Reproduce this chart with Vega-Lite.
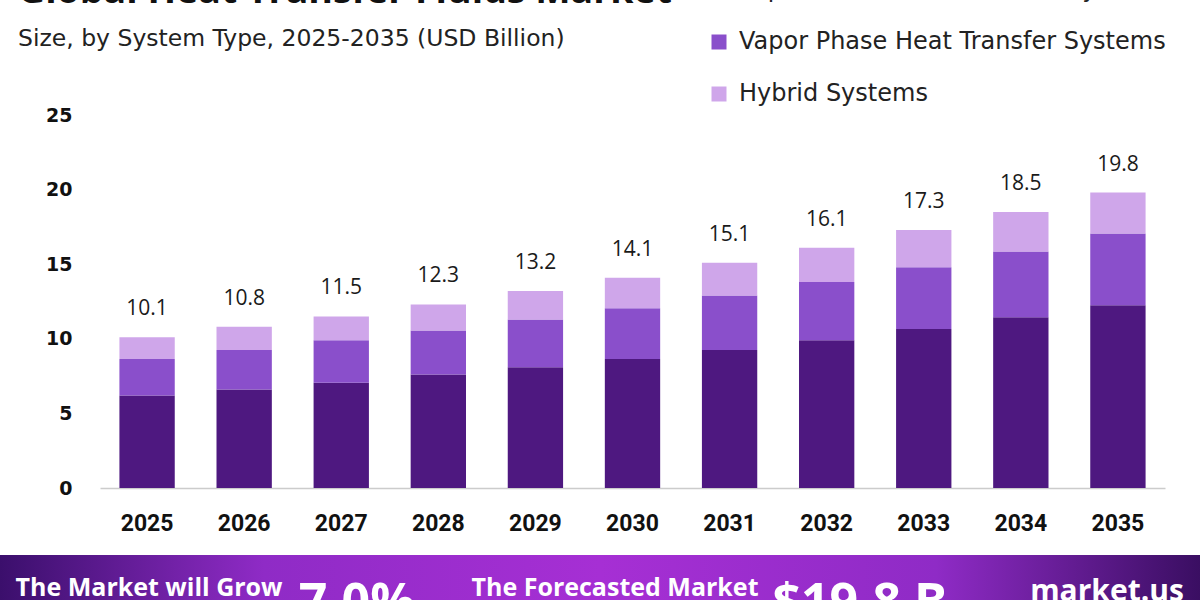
{
  "$schema": "https://vega.github.io/schema/vega-lite/v6.json",
  "background": "white",
  "padding": {"top": -27, "left": 0, "right": 0, "bottom": 0},
  "bounds": "flush",
  "spacing": 67,
  "config": {
    "view": {"stroke": null},
    "font": "Open Sans"
  },
  "vconcat": [
    {
      "width": 1200,
      "height": 373,
      "title": {
        "text": "Global Heat Transfer Fluids Market",
        "subtitle": "Size, by System Type, 2025-2035 (USD Billion)",
        "anchor": "start",
        "frame": "group",
        "dx": 18,
        "offset": 56,
        "font": "Open Sans",
        "fontSize": 37.5,
        "fontWeight": "bold",
        "color": "#111111",
        "subtitleFont": "DejaVu Sans",
        "subtitleFontSize": 23.5,
        "subtitleColor": "#222222",
        "subtitlePadding": 16
      },
      "data": {
        "values": [
          {"year": "2025", "system": "Liquid Phase Heat Transfer Systems", "value": 6.2},
          {"year": "2025", "system": "Vapor Phase Heat Transfer Systems", "value": 2.45},
          {"year": "2025", "system": "Hybrid Systems", "value": 1.45},
          {"year": "2026", "system": "Liquid Phase Heat Transfer Systems", "value": 6.6},
          {"year": "2026", "system": "Vapor Phase Heat Transfer Systems", "value": 2.65},
          {"year": "2026", "system": "Hybrid Systems", "value": 1.55},
          {"year": "2027", "system": "Liquid Phase Heat Transfer Systems", "value": 7.05},
          {"year": "2027", "system": "Vapor Phase Heat Transfer Systems", "value": 2.85},
          {"year": "2027", "system": "Hybrid Systems", "value": 1.6},
          {"year": "2028", "system": "Liquid Phase Heat Transfer Systems", "value": 7.6},
          {"year": "2028", "system": "Vapor Phase Heat Transfer Systems", "value": 2.95},
          {"year": "2028", "system": "Hybrid Systems", "value": 1.75},
          {"year": "2029", "system": "Liquid Phase Heat Transfer Systems", "value": 8.1},
          {"year": "2029", "system": "Vapor Phase Heat Transfer Systems", "value": 3.2},
          {"year": "2029", "system": "Hybrid Systems", "value": 1.9},
          {"year": "2030", "system": "Liquid Phase Heat Transfer Systems", "value": 8.65},
          {"year": "2030", "system": "Vapor Phase Heat Transfer Systems", "value": 3.4},
          {"year": "2030", "system": "Hybrid Systems", "value": 2.05},
          {"year": "2031", "system": "Liquid Phase Heat Transfer Systems", "value": 9.25},
          {"year": "2031", "system": "Vapor Phase Heat Transfer Systems", "value": 3.65},
          {"year": "2031", "system": "Hybrid Systems", "value": 2.2},
          {"year": "2032", "system": "Liquid Phase Heat Transfer Systems", "value": 9.9},
          {"year": "2032", "system": "Vapor Phase Heat Transfer Systems", "value": 3.9},
          {"year": "2032", "system": "Hybrid Systems", "value": 2.3},
          {"year": "2033", "system": "Liquid Phase Heat Transfer Systems", "value": 10.65},
          {"year": "2033", "system": "Vapor Phase Heat Transfer Systems", "value": 4.15},
          {"year": "2033", "system": "Hybrid Systems", "value": 2.5},
          {"year": "2034", "system": "Liquid Phase Heat Transfer Systems", "value": 11.45},
          {"year": "2034", "system": "Vapor Phase Heat Transfer Systems", "value": 4.4},
          {"year": "2034", "system": "Hybrid Systems", "value": 2.65},
          {"year": "2035", "system": "Liquid Phase Heat Transfer Systems", "value": 12.25},
          {"year": "2035", "system": "Vapor Phase Heat Transfer Systems", "value": 4.8},
          {"year": "2035", "system": "Hybrid Systems", "value": 2.75}
        ]
      },
      "encoding": {
        "x": {
          "field": "year",
          "type": "nominal",
          "title": null,
          "scale": {"range": [100, 1165], "paddingInner": 0.43, "paddingOuter": 0.2},
          "axis": {
            "labelAngle": 0,
            "labelFont": "Roboto",
            "labelFontWeight": "bold",
            "labelFontSize": 23,
            "labelColor": "#111111",
            "labelPadding": 24,
            "ticks": false,
            "tickSize": 0,
            "domainColor": "#cccccc",
            "domainWidth": 1.5,
            "grid": false
          }
        }
      },
      "layer": [
        {
          "mark": {"type": "bar"},
          "encoding": {
            "y": {
              "field": "value",
              "type": "quantitative",
              "stack": "zero",
              "title": null,
              "scale": {"domain": [0, 25], "nice": false},
              "axis": {
                "values": [0, 5, 10, 15, 20, 25],
                "offset": -100,
                "domain": false,
                "ticks": false,
                "tickSize": 0,
                "grid": false,
                "labelFont": "DejaVu Sans",
                "labelFontWeight": "bold",
                "labelFontSize": 19,
                "labelColor": "#111111",
                "labelPadding": 28
              }
            },
            "order": {"field": "value", "type": "quantitative", "sort": "descending"},
            "color": {
              "field": "system",
              "type": "nominal",
              "sort": ["Liquid Phase Heat Transfer Systems", "Vapor Phase Heat Transfer Systems", "Hybrid Systems"],
              "scale": {
                "domain": ["Liquid Phase Heat Transfer Systems", "Vapor Phase Heat Transfer Systems", "Hybrid Systems"],
                "range": ["#4e1880", "#8a4fcb", "#cfa6ea"]
              },
              "legend": {
                "title": null,
                "orient": "none",
                "legendX": 707,
                "legendY": -137,
                "padding": 0,
                "symbolType": "square",
                "symbolSize": 225,
                "symbolStrokeWidth": 0,
                "labelFont": "DejaVu Sans",
                "labelFontSize": 24,
                "labelColor": "#222222",
                "labelOffset": 8,
                "labelLimit": 600,
                "rowPadding": 28
              }
            }
          }
        },
        {
          "transform": [
            {"aggregate": [{"op": "sum", "field": "value", "as": "total"}], "groupby": ["year"]}
          ],
          "mark": {
            "type": "text",
            "baseline": "alphabetic",
            "dy": -22,
            "font": "Open Sans",
            "fontSize": 21,
            "color": "#1a1a1a"
          },
          "encoding": {
            "y": {"field": "total", "type": "quantitative"},
            "text": {"field": "total", "type": "quantitative", "format": ".1f"}
          }
        }
      ]
    },
    {
      "width": 1200,
      "height": 47,
      "data": {
        "values": [
          {"slot": "a", "part": "caption", "text": "The Market will Grow"},
          {"slot": "b", "part": "figure", "text": "7.0%"},
          {"slot": "c", "part": "caption", "text": "The Forecasted Market"},
          {"slot": "d", "part": "figure", "text": "$19.8 B"},
          {"slot": "e", "part": "brand", "text": "market.us"}
        ]
      },
      "resolve": {"scale": {"x": "independent"}},
      "layer": [
        {
          "data": {"values": [{"band": "summary"}]},
          "mark": {
            "type": "rect",
            "fill": {
              "gradient": "linear",
              "x1": 0, "y1": 0, "x2": 1, "y2": 0,
              "stops": [
                {"offset": 0, "color": "#3b0f6c"},
                {"offset": 0.22, "color": "#8f2bc6"},
                {"offset": 0.5, "color": "#a62fd4"},
                {"offset": 0.78, "color": "#8f2bc6"},
                {"offset": 1, "color": "#3a0e62"}
              ]
            }
          },
          "encoding": {
            "x": {"value": 0},
            "x2": {"value": "width"},
            "y": {"value": 0},
            "y2": {"value": "height"}
          }
        },
        {
          "transform": [{"filter": "datum.part === 'caption'"}],
          "mark": {"type": "text", "clip": true, "baseline": "top", "dy": -3, "font": "Open Sans", "fontWeight": "bold", "fontSize": 25, "color": "white"},
          "encoding": {
            "x": {"field": "slot", "type": "nominal", "scale": {"type": "point", "range": [149, 615], "padding": 0}, "axis": null},
            "text": {"field": "text"}
          }
        },
        {
          "transform": [{"filter": "datum.part === 'figure'"}],
          "mark": {"type": "text", "clip": true, "baseline": "top", "dy": 0, "font": "Open Sans", "fontWeight": "bold", "fontSize": 50, "color": "white"},
          "encoding": {
            "x": {"field": "slot", "type": "nominal", "scale": {"type": "point", "range": [357, 860], "padding": 0}, "axis": null},
            "text": {"field": "text"}
          }
        },
        {
          "transform": [{"filter": "datum.part === 'brand'"}],
          "mark": {"type": "text", "clip": true, "baseline": "top", "dy": -2, "font": "Open Sans", "fontWeight": "bold", "fontSize": 30, "color": "white"},
          "encoding": {
            "x": {"field": "slot", "type": "nominal", "scale": {"type": "point", "range": [1107, 1107], "padding": 0}, "axis": null},
            "text": {"field": "text"}
          }
        }
      ]
    }
  ]
}
